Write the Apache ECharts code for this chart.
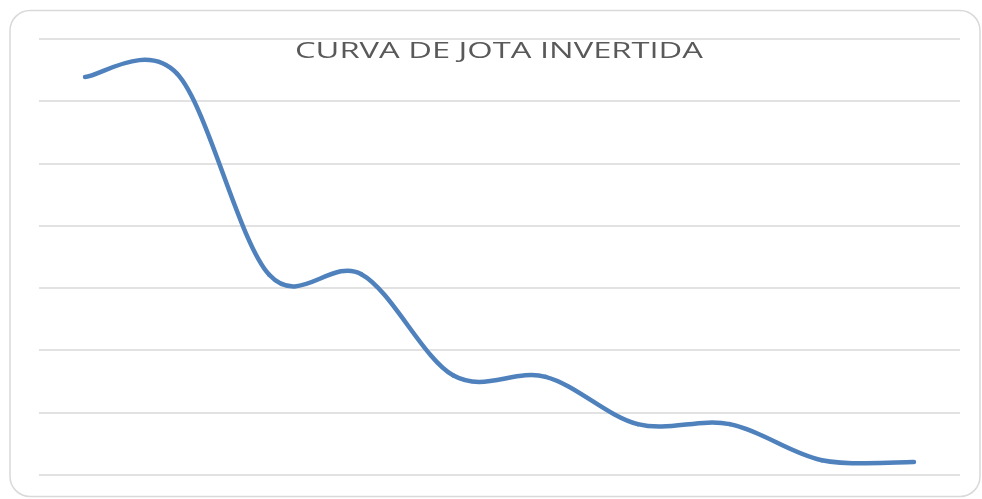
<!DOCTYPE html>
<html>
<head>
<meta charset="utf-8">
<script src="https://cdn.jsdelivr.net/npm/echarts@6/dist/echarts.min.js"></script>
<style>
html,body{margin:0;padding:0;background:#fff;}
#chart{width:982px;height:499px;}
</style>
</head>
<body>
<div id="chart"></div>
<script>
// Data (no axis labels in the original)
var categories = ['1', '2', '3', '4', '5', '6', '7', '8', '9', '10'];
var values = [63.9, 64.4, 32.1, 32.2, 15.9, 15.7, 8.1, 8.1, 2.3, 2.0];
var titleText = 'CURVA DE JOTA INVERTIDA';
var yMin = 0, yMax = 70, yInterval = 10;

var chart = echarts.init(document.getElementById('chart'), null, {renderer: 'canvas'});

var fontFamily = '"Open Sans", "Noto Sans", sans-serif';
var fontSize = 22;
var cv = document.createElement('canvas').getContext('2d');
cv.font = fontSize + 'px ' + fontFamily;
var measured = cv.measureText(titleText).width || 300;
var titleScale = 408 / measured;

var lineColor = '#4f81bd';

// Spreadsheet-style smoothed line: cubic Bezier per segment,
// control points from neighbouring data points (mapped through the axes).
function renderSegment(params, api) {
  var n = values.length;
  var i = params.dataIndex;
  if (i >= n - 1) return null;
  function P(k) {
    k = Math.max(0, Math.min(n - 1, k));
    return api.coord([k, values[k]]);
  }
  var p0 = P(i - 1), p1 = P(i), p2 = P(i + 1), p3 = P(i + 2);
  return {
    type: 'bezierCurve',
    shape: {
      x1: p1[0], y1: p1[1],
      x2: p2[0], y2: p2[1],
      cpx1: p1[0] + (p2[0] - p0[0]) / 6, cpy1: p1[1] + (p2[1] - p0[1]) / 6,
      cpx2: p2[0] - (p3[0] - p1[0]) / 6, cpy2: p2[1] - (p3[1] - p1[1]) / 6
    },
    style: {fill: null, stroke: lineColor, lineWidth: 4.5, lineCap: 'round', lineJoin: 'round'}
  };
}

chart.setOption({
  animation: false,
  backgroundColor: '#ffffff',
  grid: {left: 39, right: 22, top: 39, bottom: 24.5, containLabel: false},
  xAxis: {
    type: 'category',
    data: categories,
    boundaryGap: true,
    axisLine: {show: false},
    axisTick: {show: false},
    axisLabel: {show: false},
    splitLine: {show: false}
  },
  yAxis: {
    type: 'value',
    min: yMin, max: yMax, interval: yInterval,
    axisLine: {show: false},
    axisTick: {show: false},
    axisLabel: {show: false},
    splitLine: {show: true, lineStyle: {color: '#d9d9d9', width: 1.5}}
  },
  graphic: [
    {
      type: 'rect',
      shape: {x: 10, y: 10.5, width: 970, height: 486, r: 20},
      style: {fill: 'none', stroke: '#d9d9d9', lineWidth: 1.5},
      silent: true, z: -1
    },
    {
      type: 'text',
      x: 499, y: 51.5,
      scaleX: titleScale,
      style: {
        text: titleText,
        font: fontSize + 'px ' + fontFamily,
        fill: '#595959',
        align: 'center',
        verticalAlign: 'middle'
      },
      z: 10
    }
  ],
  series: [{
    type: 'custom',
    coordinateSystem: 'cartesian2d',
    data: values.map(function (v, i) { return [i, v]; }),
    encode: {x: 0, y: 1},
    renderItem: renderSegment,
    clip: false
  }]
});
</script>
</body>
</html>
